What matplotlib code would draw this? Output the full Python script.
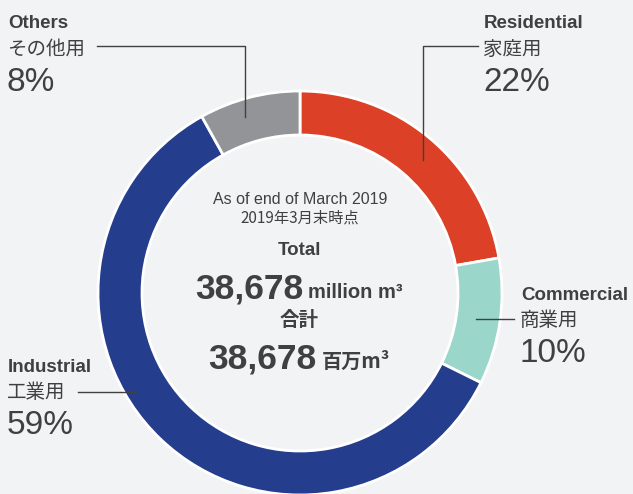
import matplotlib
matplotlib.use("Agg")
import matplotlib.pyplot as plt

categories_en = ["Residential", "Commercial", "Industrial", "Others"]
categories_ja = ["家庭用", "商業用", "工業用", "その他用"]
shares = [22, 10, 59, 8]
colors = ["#dc4128", "#9bd6cb", "#243d8d", "#929497"]
total_value = "38,678"

BG = "#f2f3f5"
TXT = "#404040"
EN = ["Liberation Sans", "Noto Sans CJK JP", "DejaVu Sans"]
JA = ["Noto Sans CJK JP", "DejaVu Sans"]

W, H = 633, 494
fig = plt.figure(figsize=(W / 100, H / 100), dpi=100, facecolor=BG)
ax = fig.add_axes([0, 0, 1, 1])
ax.set_facecolor(BG)

def Y(y):
    return H - y

cx, cy, R = 300, 293, 202
ax.pie(shares, colors=colors, startangle=90, counterclock=False, radius=R,
       center=(cx, Y(cy)), frame=False,
       wedgeprops=dict(width=44, edgecolor="white", linewidth=2))
ax.set_xlim(0, W)
ax.set_ylim(0, H)
ax.set_aspect("equal")
ax.axis("off")

# label anchor: (x, y centre of english line)
labels = {
    "Others": (8, 24),
    "Residential": (484, 24),
    "Commercial": (521, 295),
    "Industrial": (8, 367),
}
for en, ja, s in zip(categories_en, categories_ja, shares):
    x, y = labels[en]
    ax.text(x, Y(y), en, family=EN, fontweight="bold", fontsize=13.5,
            color=TXT, ha="left", va="center")
    ax.text(x - 1, Y(y + 25), ja, family=JA, fontsize=14,
            color=TXT, ha="left", va="center")
    ax.text(x - 1, Y(y + 59), f"{s}%", family=EN, fontsize=24,
            color=TXT, ha="left", va="center")

lc = "#404040"
lw = 1.0
# Others leader
ax.plot([97, 245, 245], [Y(46), Y(46), Y(117)], color=lc, lw=lw)
# Residential leader
ax.plot([478, 423, 423], [Y(46), Y(46), Y(160)], color=lc, lw=lw)
# Commercial leader
ax.plot([476, 514], [Y(319), Y(319)], color=lc, lw=lw)
# Industrial leader
ax.plot([78, 137], [Y(392), Y(392)], color=lc, lw=lw)

# center text
ax.text(300, Y(200), "As of end of March 2019", family=EN, fontsize=11.5,
        color=TXT, ha="center", va="center")
ax.text(300, Y(218), "2019年3月末時点", family=JA, fontsize=11,
        color=TXT, ha="center", va="center")
ax.text(300, Y(251), "Total", family=EN, fontweight="bold", fontsize=13.5,
        color=TXT, ha="center", va="center")
ax.text(303, Y(298), total_value, family=EN, fontweight="bold", fontsize=25.5,
        color=TXT, ha="right", va="baseline")
ax.text(308, Y(298), "million m³", family=EN, fontweight="bold", fontsize=14.5,
        color=TXT, ha="left", va="baseline")
ax.text(299, Y(321), "合計", family=JA, fontweight="bold", fontsize=14,
        color=TXT, ha="center", va="center")
ax.text(316, Y(368), total_value, family=EN, fontweight="bold", fontsize=25.5,
        color=TXT, ha="right", va="baseline")
ax.text(322, Y(368), "百万m³", family=JA, fontweight="bold", fontsize=14.5,
        color=TXT, ha="left", va="baseline")

fig.savefig("out.png", dpi=100, facecolor=BG)
